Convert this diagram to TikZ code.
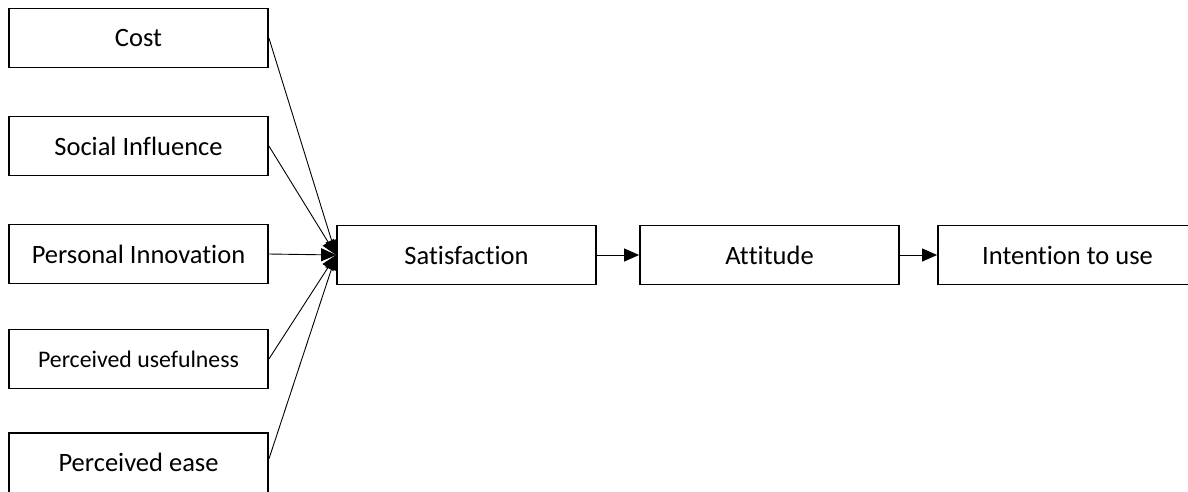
\documentclass[tikz,border=0pt]{standalone}
\usepackage{fontspec}
\setmainfont{Carlito}[Ligatures={NoCommon,NoContextual},RawFeature={-liga;-clig;-calt;-dlig}]
\usetikzlibrary{arrows.meta}
\begin{document}
\begin{tikzpicture}[x=1pt,y=-1pt,
  box/.style={draw, line width=1.8pt, minimum width=259pt, minimum height=59pt, inner sep=0pt, font=\fontsize{26.5}{30}\selectfont},
  smallbox/.style={box, font=\fontsize{23.8}{27}\selectfont},
  conn/.style={line width=0.9pt, -{Triangle[length=15pt,width=13pt]}}]
\useasboundingbox (0,0) rectangle (1188,491);
\clip (0,0) rectangle (1188,491);
\node[box] (cost) at (138.5,38) {Cost};
\node[box] (social) at (138.5,146) {Social Influence};
\node[box] (personal) at (138.5,254) {Personal Innovat\kern0pt ion};
\node[smallbox] (useful) at (138.5,359) {Perceived usefulness};
\node[box, minimum height=66pt] (ease) at (138.5,466) {};
\node[font=\fontsize{26.5}{30}\selectfont] (easetext) at (138.5,462) {Perceived ease};
\coordinate (easeout) at ([yshift=3pt]ease.east |- easetext);
\node[box] (sat) at (466.5,255) {Satisfact\kern0pt ion};
\node[box] (att) at (769.5,255) {At\kern0pt t\kern0pt it\kern0pt ude};
\node[box] (int) at (1067.5,255) {Intent\kern0pt ion to use};
\draw[conn] (cost.east) -- (sat.west);
\draw[conn] (social.east) -- (sat.west);
\draw[conn] (personal.east) -- (sat.west);
\draw[conn] (useful.east) -- (sat.west);
\draw[conn] (easeout) -- (sat.west);
\draw[conn] (sat.east) -- (att.west);
\draw[conn] (att.east) -- (int.west);
\end{tikzpicture}
\end{document}
